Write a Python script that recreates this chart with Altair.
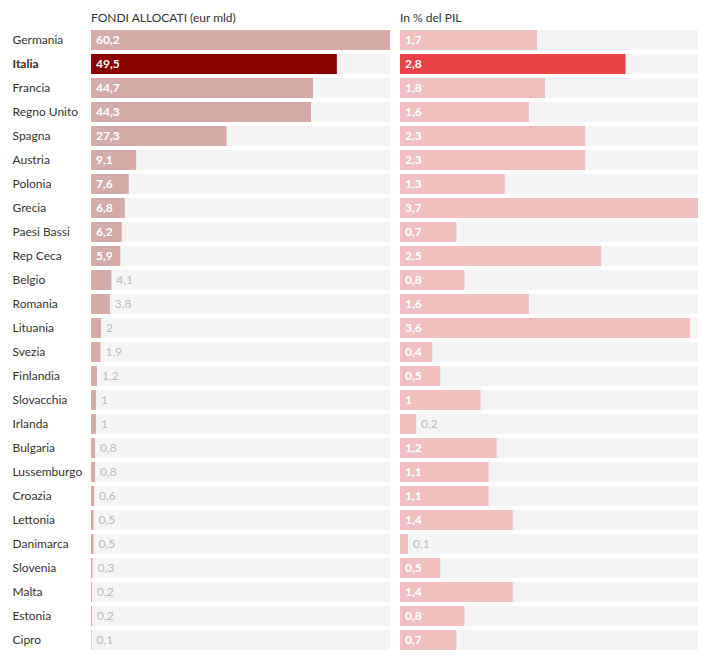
import altair as alt
import pandas as pd

countries = ["Germania", "Italia", "Francia", "Regno Unito", "Spagna", "Austria",
             "Polonia", "Grecia", "Paesi Bassi", "Rep Ceca", "Belgio", "Romania",
             "Lituania", "Svezia", "Finlandia", "Slovacchia", "Irlanda", "Bulgaria",
             "Lussemburgo", "Croazia", "Lettonia", "Danimarca", "Slovenia", "Malta",
             "Estonia", "Cipro"]
fondi = [60.2, 49.5, 44.7, 44.3, 27.3, 9.1, 7.6, 6.8, 6.2, 5.9, 4.1, 3.8, 2,
         1.9, 1.2, 1, 1, 0.8, 0.8, 0.6, 0.5, 0.5, 0.3, 0.2, 0.2, 0.1]
pil = [1.7, 2.8, 1.8, 1.6, 2.3, 2.3, 1.3, 3.7, 0.7, 2.5, 0.8, 1.6, 3.6, 0.4,
       0.5, 1, 0.2, 1.2, 1.1, 1.1, 1.4, 0.1, 0.5, 1.4, 0.8, 0.7]

df = pd.DataFrame({"paese": countries, "fondi": fondi, "pil": pil})

FONT = "Lato"
HEIGHT = 624


def panel(field, title, base_color, hi_color, width, show_axis):
    base = alt.Chart(df).transform_joinaggregate(
        vmax=f"max({field})"
    ).transform_calculate(
        v=f"datum.{field}",
        lab=f"replace(toString(datum.{field}), '.', ',')",
        inside=f"datum.{field} / datum.vmax > 0.08",
        pos=f"datum.{field} / datum.vmax > 0.08 ? 0 : datum.{field}",
    )
    if show_axis:
        axis = alt.Axis(
            labelAlign="left", labelPadding=79, ticks=False, tickSize=0,
            domain=False, labelFont=FONT, labelFontSize=12, labelColor="#333333",
            labelFontWeight=alt.expr("datum.value == 'Italia' ? 'bold' : 'normal'"),
        )
    else:
        axis = None
    y = alt.Y("paese:N", sort=countries, title=None, axis=axis,
              scale=alt.Scale(paddingInner=1 / 6, paddingOuter=1 / 12))
    xs = alt.Scale(nice=False, zero=True)

    bg = base.mark_bar(color="#f4f4f4").encode(
        x=alt.X("vmax:Q", scale=xs, axis=None), y=y
    )
    bars = base.mark_bar().encode(
        x=alt.X("v:Q", scale=xs, axis=None),
        y=y,
        color=alt.condition(alt.datum.paese == "Italia",
                            alt.value(hi_color), alt.value(base_color)),
    )
    txt_in = base.transform_filter("datum.inside").mark_text(
        align="left", baseline="middle", dx=5, font=FONT, fontSize=12,
        fontWeight="bold", color="white",
    ).encode(x=alt.X("pos:Q", scale=xs, axis=None), y=y, text="lab:N")
    txt_out = base.transform_filter("!datum.inside").mark_text(
        align="left", baseline="middle", dx=5, font=FONT, fontSize=12,
        fontWeight="normal", color="#bbbbbb",
    ).encode(x=alt.X("pos:Q", scale=xs, axis=None), y=y, text="lab:N")
    return alt.layer(bg, bars, txt_in, txt_out).properties(
        width=width, height=HEIGHT,
        title=alt.TitleParams(title, anchor="start", frame="group", font=FONT,
                              fontSize=12, fontWeight="normal", color="#333333",
                              offset=3),
    )


left = panel("fondi", "FONDI ALLOCATI (eur mld)", "#d4abab", "#8b0000", 299, True)
right = panel("pil", "In % del PIL", "#f0bfc1", "#e84146", 298, False)

chart = alt.hconcat(left, right, spacing=10).properties(
    padding={"left": 4, "top": 4, "right": 0, "bottom": 0}
).configure_view(stroke=None)

chart.save("out.html", embed_options={"renderer": "svg", "actions": False})
